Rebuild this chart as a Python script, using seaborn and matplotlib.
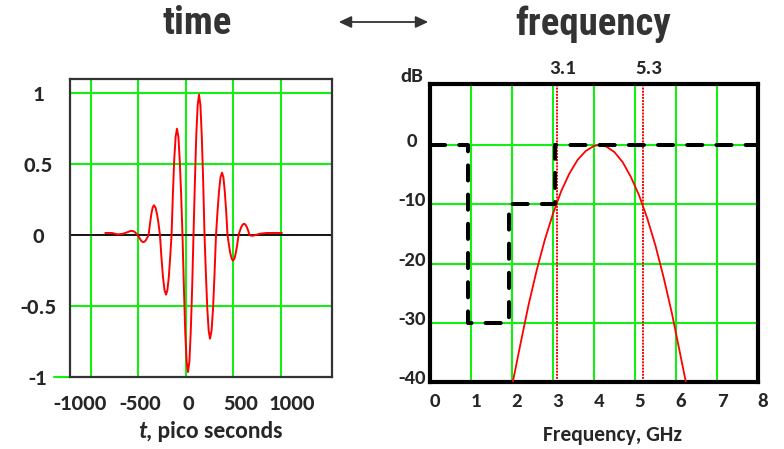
import matplotlib
matplotlib.use("Agg")
import matplotlib.pyplot as plt
import matplotlib.transforms as mtrans
from matplotlib import font_manager as fm
import seaborn as sns

# time domain pulse (pico seconds, normalised amplitude)
t_ps = [-850, -780, -720, -660, -610, -590, -568, -545, -525, -509, -490, -470,
        -450, -436, -422, -408, -394, -379, -365, -351,
        -337, -321, -305, -289, -274, -258, -242, -226,
        -210, -196, -181, -167, -152, -138, -124, -109,
        -95, -80, -66, -51, -37, -22, -8, 7,
        21, 36, 50, 65, 79, 94, 108, 123,
        137, 152, 166, 181, 195, 210, 224, 239,
        253, 269, 285, 300, 316, 332, 348, 363,
        379, 394, 408, 423, 437, 452, 466, 481,
        495, 510, 524, 539, 553, 568, 582, 597,
        611, 626, 640, 655, 668, 685, 700, 730, 780, 850, 1010]
pulse = [0.015, 0.015, 0.005, 0.01, 0.022, 0.028, 0.03, 0.025, 0.012, 0.0, -0.02, -0.042,
         -0.05, -0.046, -0.035, -0.019, 0.0, 0.08, 0.148, 0.194,
         0.21, 0.194, 0.148, 0.08, 0.0, -0.161, -0.297, -0.388,
         -0.42, -0.388, -0.297, -0.161, 0.0, 0.287, 0.53, 0.693,
         0.75, 0.693, 0.53, 0.287, 0.0, -0.37, -0.682, -0.892,
         -0.965, -0.892, -0.682, -0.37, 0.0, 0.379, 0.70, 0.915,
         0.99, 0.915, 0.70, 0.379, 0.0, -0.28, -0.516, -0.675,
         -0.73, -0.675, -0.516, -0.28, 0.0, 0.168, 0.311, 0.407,
         0.44, 0.407, 0.311, 0.168, 0.0, -0.069, -0.127, -0.166,
         -0.18, -0.166, -0.127, -0.069, 0.0, 0.031, 0.057, 0.074,
         0.08, 0.074, 0.057, 0.031, 0.0, -0.004, -0.005, 0.0, 0.01, 0.015, 0.015]

# spectrum of the pulse (GHz, dB)
f_ghz = [2.02, 2.2, 2.4, 2.6, 2.8, 3.0, 3.2, 3.4, 3.6, 3.8, 4.0, 4.13, 4.3,
         4.5, 4.7, 4.9, 5.1, 5.3, 5.5, 5.7, 5.9, 6.1, 6.24]
spec_db = [-40, -33.8, -27.1, -21.2, -16.0, -11.6, -7.8, -4.8, -2.5, -1.0, -0.15, 0,
           -0.26, -1.2, -2.9, -5.4, -8.5, -12.4, -17.0, -22.4, -28.4, -35.2, -40]

# emission mask (dashed)
mask_f = [0, 0.93, 0.93, 1.93, 1.93, 3.05, 3.05, 8]
mask_db = [0, 0, -30, -30, -10, -10, 0, 0]

band_edges = [3.1, 5.2]
band_labels = ["3.1", "5.3"]

time_ticks = [-1000, -500, 0, 500, 1000]
time_labels = ["-1000", "-500", "0", "500", "1000"]
amp_ticks = [-1, -0.5, 0, 0.5, 1]
amp_labels = ["-1", "-0.5", "0", "0.5", "1"]
freq_ticks = [0, 1, 2, 3, 4, 5, 6, 7, 8]
db_ticks = [-40, -30, -20, -10, 0]
db_labels = ["-40", "-30", "-20", "-10", "0"]


def weight_of(f):
    w = f.weight
    if isinstance(w, str):
        w = fm.weight_dict.get(w, 400)
    return w


def stretch_of(f):
    s = f.stretch
    if isinstance(s, str):
        s = fm.stretch_dict.get(s, 500)
    return s


def bold_family(names):
    # first family of the list that has a real bold face installed
    for name in names:
        for f in fm.fontManager.ttflist:
            if f.name == name and 600 <= weight_of(f) <= 800 and f.style == "normal":
                return name
    return "DejaVu Sans"


def condensed_bold():
    # a narrow bold sans for the two headings, if there is one
    prefs = ["Roboto Condensed", "Liberation Sans Narrow", "Open Sans Condensed",
             "DejaVu Sans", "Noto Sans", "Roboto", "Open Sans"]
    for name in prefs:
        for f in fm.fontManager.ttflist:
            if (f.name.startswith(name) and 600 <= weight_of(f) <= 800
                    and f.style == "normal"
                    and (stretch_of(f) < 500 or "Condensed" in f.name or "Narrow" in f.name)):
                return fm.FontProperties(fname=f.fname)
    return fm.FontProperties(family=bold_family(["Roboto", "DejaVu Sans"]), weight="bold")


sns.set_style("white")
tick_family = bold_family(["Carlito", "Lato", "Noto Sans", "Open Sans", "Liberation Sans"])
plt.rcParams["font.family"] = [tick_family, "DejaVu Sans"]
plt.rcParams["font.weight"] = "bold"

green = "#13ee13"
W, H = 784, 449
fig = plt.figure(figsize=(W / 100, H / 100), dpi=100)


def shift(labels, dx_px, dy_px=0):
    # nudge tick labels by a few pixels
    if not isinstance(dx_px, list):
        dx_px = [dx_px] * len(labels)
    for lab, dx in zip(labels, dx_px):
        off = mtrans.ScaledTranslation(dx / 100, dy_px / 100, fig.dpi_scale_trans)
        lab.set_transform(lab.get_transform() + off)


# ---------------- time panel ----------------
ax1 = fig.add_axes([70 / W, 1 - 377 / H, 262 / W, 298 / H])
for x in time_ticks:
    ax1.axvline(x, color=green, lw=1.5, zorder=1)
for y in [-0.5, 0.5, 1]:
    ax1.axhline(y, color=green, lw=1.5, zorder=1)
ax1.axhline(0, color="black", lw=1.3, zorder=2)
sns.lineplot(x=t_ps, y=pulse, ax=ax1, color="red", lw=1.4,
             estimator=None, sort=False, zorder=3)
ax1.set_xlim(-1221, 1537)
ax1.set_ylim(-1, 1.1)
ax1.set_xticks(time_ticks)
ax1.set_xticklabels(time_labels, fontsize=16.5, fontweight="bold")
ax1.set_yticks(amp_ticks)
ax1.set_yticklabels(amp_labels, fontsize=16.5, fontweight="bold", ha="center")
ax1.tick_params(axis="x", length=0, pad=12)
ax1.tick_params(axis="y", length=0, pad=23)
shift(ax1.get_xticklabels(), [-11, 2, 2, 7, 11])
for s in ax1.spines.values():
    s.set_color("#333333")
    s.set_linewidth(1.6)
ax1.plot([-0.06, 0], [0, 0], transform=ax1.transAxes, color=green, lw=1.5,
         clip_on=False)
ax1.set_xlabel("")
ax1.set_ylabel("")
fig.text(146 / W, 1 - 432 / H, "t", fontsize=17, fontweight="bold",
         style="italic", ha="right", va="center")
fig.text(146 / W, 1 - 432 / H, ", pico seconds", fontsize=17,
         fontweight="bold", ha="left", va="center")

# ---------------- frequency panel ----------------
ax2 = fig.add_axes([430 / W, 1 - 382 / H, 328 / W, 298 / H])
for x in freq_ticks[1:-1]:
    ax2.axvline(x, color=green, lw=1.5, zorder=1)
for y in db_ticks[1:]:
    ax2.axhline(y, color=green, lw=1.5, zorder=1)
for x in band_edges:
    ax2.axvline(x, color="red", lw=1.4, ls=(0, (1, 0.6)), zorder=2)
sns.lineplot(x=f_ghz, y=spec_db, ax=ax2, color="red", lw=1.3,
             estimator=None, sort=False, zorder=3)
sns.lineplot(x=mask_f, y=mask_db, ax=ax2, color="black", lw=2.9,
             estimator=None, sort=False, zorder=4,
             linestyle=(0, (3.75, 3.5)), dash_capstyle="round")
ax2.set_xlim(0, 8)
ax2.set_ylim(-40, 10.3)
ax2.set_xticks(freq_ticks)
ax2.set_xticklabels([str(v) for v in freq_ticks], fontsize=15, fontweight="bold")
ax2.set_yticks(db_ticks)
ax2.set_yticklabels(db_labels, fontsize=15, fontweight="bold", ha="center")
ax2.tick_params(axis="x", length=0, pad=8)
ax2.tick_params(axis="y", length=0, pad=13)
shift(ax2.get_xticklabels(), 5)
shift(ax2.get_yticklabels(), 0, 5)
for s in ax2.spines.values():
    s.set_color("black")
    s.set_linewidth(3)
ax2.set_xlabel("")
ax2.set_ylabel("")
fig.text(612 / W, 1 - 435 / H, "Frequency, GHz", fontsize=15.5,
         fontweight="bold", ha="center", va="center")
for x, lab in zip(band_edges, band_labels):
    ax2.annotate(lab, xy=(x, 1), xycoords=("data", "axes fraction"),
                 xytext=(4, 11), textcoords="offset points",
                 ha="center", va="center", fontsize=15, fontweight="bold")
fig.text(412 / W, 1 - 77 / H, "dB", fontsize=15, fontweight="bold",
         ha="center", va="center")

# ---------------- titles ----------------
title_fp = condensed_bold()
title_fp.set_size(28)
fig.text(197 / W, 1 - 24 / H, "time", fontproperties=title_fp, color="#333333",
         ha="center", va="center")
fig.text(593 / W, 1 - 24 / H, "frequency", fontproperties=title_fp, color="#333333",
         ha="center", va="center")
fig.add_artist(matplotlib.patches.FancyArrowPatch(
    (336 / W, 1 - 22 / H), (431 / W, 1 - 22 / H), transform=fig.transFigure,
    arrowstyle="<|-|>,head_length=7.5,head_width=3.5", color="#333333", lw=1.3))

fig.savefig("out.png", dpi=100)
